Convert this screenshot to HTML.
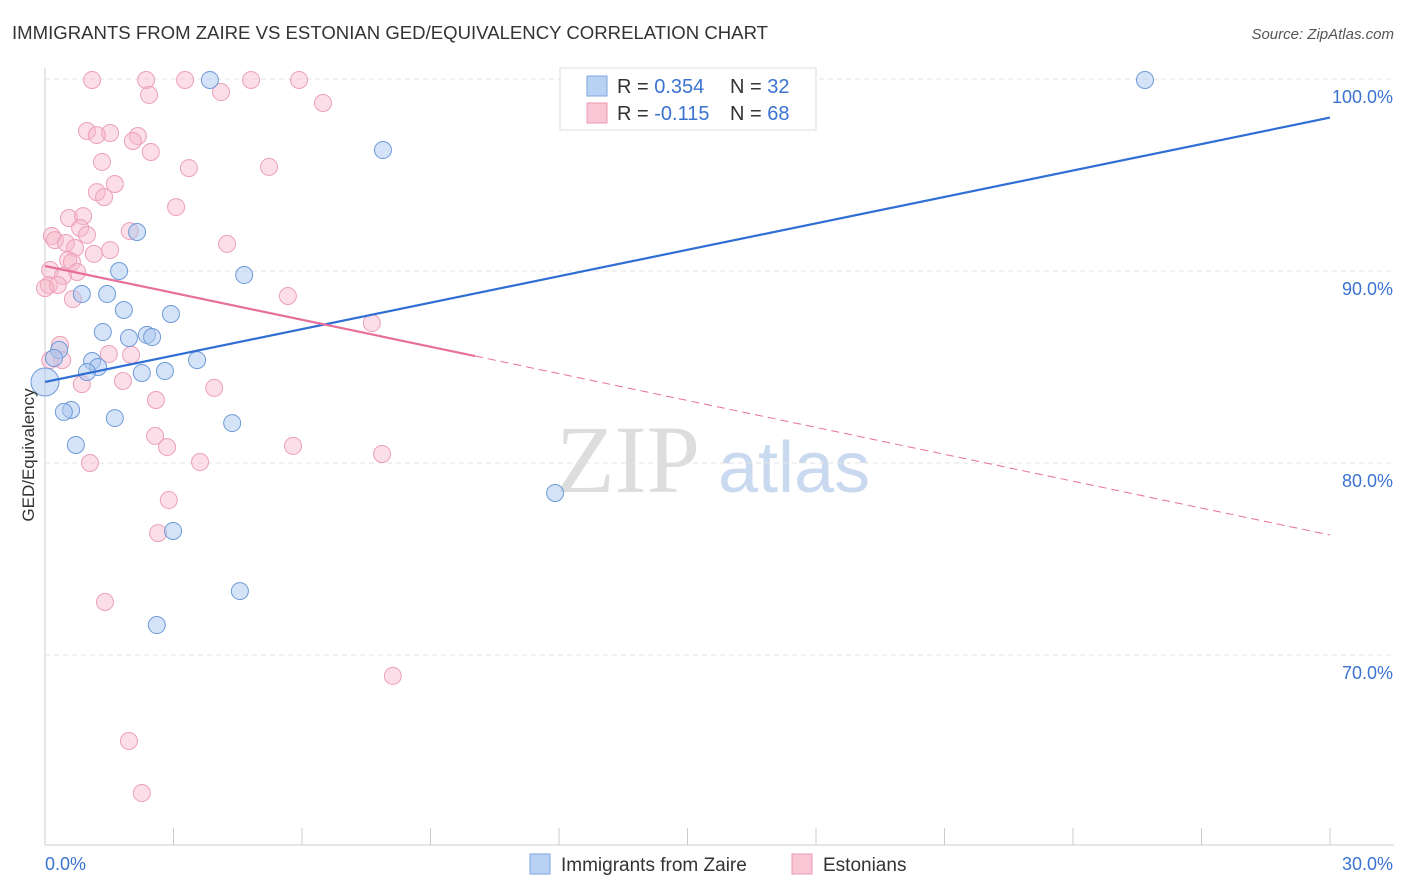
<!DOCTYPE html>
<html><head><meta charset="utf-8">
<style>
body{margin:0;background:#fff;font-family:"Liberation Sans",sans-serif;}
svg{display:block}
</style></head>
<body>
<svg id="chart" width="1406" height="892">
<text x="12" y="39" font-size="18" fill="#333" textLength="756" lengthAdjust="spacingAndGlyphs">IMMIGRANTS FROM ZAIRE VS ESTONIAN GED/EQUIVALENCY CORRELATION CHART</text>
<text x="1394" y="39" font-size="15" fill="#555" font-style="italic" text-anchor="end">Source: ZipAtlas.com</text>
<g>
<text x="556" y="492" font-size="96" font-family="Liberation Serif,serif" fill="#ddd">ZIP</text>
<text x="718" y="492" font-size="72" fill="#c9d9ef">atlas</text>
</g>
<g id="grid"></g>
<g id="axes"></g>
<g id="marks"></g>
<text transform="translate(34,455) rotate(-90)" font-size="17" fill="#333" text-anchor="middle">GED/Equivalency</text>
<g>
<rect x="560" y="68" width="256" height="62" fill="#fff" stroke="#ddd"/>
<rect x="587" y="76" width="20" height="20" fill="#b9d1f2" stroke="#7ea6e0"/>
<rect x="587" y="103" width="20" height="20" fill="#f8c6d4" stroke="#eb9ab3"/>
<text x="617" y="93" font-size="20" fill="#333">R = <tspan fill="#3b73d1">0.354</tspan></text>
<text x="730" y="93" font-size="20" fill="#333">N = <tspan fill="#3b73d1">32</tspan></text>
<text x="617" y="120" font-size="20" fill="#333">R = <tspan fill="#3b73d1">-0.115</tspan></text>
<text x="730" y="120" font-size="20" fill="#333">N = <tspan fill="#3b73d1">68</tspan></text>
</g>
<g>
<rect x="530" y="854" width="20" height="20" fill="#b9d1f2" stroke="#7ea6e0"/>
<text x="561" y="871" font-size="19" fill="#333">Immigrants from Zaire</text>
<rect x="792" y="854" width="20" height="20" fill="#f8c6d4" stroke="#eb9ab3"/>
<text x="823" y="871" font-size="19" fill="#333">Estonians</text>
</g>
</svg>
<script>
const yTicks=[70,80,90,100];
const yTickLabels=["70.0%","80.0%","90.0%","100.0%"];
const xEndLabels=["0.0%","30.0%"];
const blueX=[3.85,25.68,7.89,2.15,1.73,4.65,0.86,1.45,1.84,2.94,1.35,1.96,2.38,2.50,0.33,3.55,1.10,1.24,0.98,2.26,2.80,0.21,0,0.61,0.44,1.63,4.37,0.72,11.91,2.99,4.55,2.61];
const blueY=[99.95,99.95,96.30,92.03,90.0,89.79,88.80,88.80,87.97,87.76,86.82,86.51,86.67,86.56,85.89,85.36,85.31,85.0,84.74,84.69,84.79,85.47,84.22,82.76,82.66,82.34,82.08,80.94,78.44,76.46,73.33,71.56];
const pinkX=[1.10,2.36,3.27,4.81,5.93,4.11,2.43,6.49,0.98,1.52,1.21,2.17,2.05,2.47,1.33,3.36,5.23,1.63,1.21,1.38,3.06,0.56,0.89,0.16,0.82,1.98,0.98,0.23,0.49,0.70,1.52,4.25,1.14,0.54,0.63,0.12,0.75,0.42,0.09,0.30,5.67,0.65,7.63,0.35,0.40,1.49,2.01,0.12,1.82,0.86,3.95,2.59,2.57,2.85,5.79,1.05,3.62,7.87,2.89,2.64,1.40,8.12,1.96,2.26,0];
const pinkY=[99.95,99.95,99.95,99.95,99.95,99.32,99.17,98.75,97.29,97.19,97.08,97.03,96.77,96.20,95.68,95.36,95.42,94.53,94.11,93.85,93.33,92.76,92.86,91.82,92.24,92.08,91.88,91.61,91.46,91.20,91.09,91.41,90.89,90.57,90.47,90.05,89.95,89.74,89.27,89.27,88.70,88.54,87.29,86.15,85.36,85.68,85.63,85.36,84.27,84.11,83.91,83.28,81.41,80.83,80.89,80.0,80.05,80.47,78.07,76.35,72.76,68.91,65.52,62.81,89.11];
const blueTrend=[84.22,97.99];
const pinkTrend=[90.26,76.25];
const pinkSolidEnd=10.04;

const X0=45,X1=1330,Y100=79,PX10=192;
const sx=v=>X0+(v/30)*(X1-X0);
const sy=v=>Y100+(100-v)/10*PX10;
const NS="http://www.w3.org/2000/svg";
function mk(tag,attrs,parent){const e=document.createElementNS(NS,tag);for(const k in attrs)e.setAttribute(k,attrs[k]);parent.appendChild(e);return e;}
const grid=document.getElementById('grid'),axes=document.getElementById('axes'),marks=document.getElementById('marks');
yTicks.forEach((t,i)=>{
  const l=mk('line',{x1:X0,x2:1394,y1:sy(t),y2:sy(t),stroke:'#e3e3e3','stroke-dasharray':'5,4'},grid);
  
  
  const tx=mk('text',{x:1393,y:sy(t)+24,'font-size':18,fill:'#3b73d1','text-anchor':'end'},axes);
  tx.textContent=yTickLabels[i];
  
  
});
const ax=mk('line',{x1:X0,x2:X0,y1:68,y2:845,stroke:'#ccc'},axes);


const bx=mk('line',{x1:X0,x2:1394,y1:845,y2:845,stroke:'#ccc'},axes);


for(let i=0;i<=10;i++){
  const t=mk('line',{x1:sx(i*3),x2:sx(i*3),y1:828,y2:845,stroke:'#ccc'},axes);
  
  
}
const xl0=mk('text',{x:45,y:870,'font-size':18,fill:'#3b73d1'},axes);xl0.textContent=xEndLabels[0];


const xl1=mk('text',{x:1393,y:870,'font-size':18,fill:'#3b73d1','text-anchor':'end'},axes);xl1.textContent=xEndLabels[1];



pinkX.forEach((v,i)=>{
  const c=mk('circle',{cx:sx(v),cy:sy(pinkY[i]),r:8.5,fill:'rgba(246,182,202,0.45)',stroke:'#eca0b8','stroke-width':1},marks);
  
  
});
blueX.forEach((v,i)=>{
  const c=mk('circle',{cx:sx(v),cy:sy(blueY[i]),r:(v===0?14:8.5),fill:'rgba(170,200,240,0.5)',stroke:'#6f9ad8','stroke-width':1},marks);
  
  
});
const pAt=x=>pinkTrend[0]+(pinkTrend[1]-pinkTrend[0])*x/30;
const l1=mk('line',{x1:sx(0),y1:sy(blueTrend[0]),x2:sx(30),y2:sy(blueTrend[1]),stroke:'#2f6fd3','stroke-width':2.2},marks);


const l2=mk('line',{x1:sx(0),y1:sy(pAt(0)),x2:sx(pinkSolidEnd),y2:sy(pAt(pinkSolidEnd)),stroke:'#e7709a','stroke-width':2.2},marks);


const l3=mk('line',{x1:sx(pinkSolidEnd),y1:sy(pAt(pinkSolidEnd)),x2:sx(30),y2:sy(pAt(30)),stroke:'#e7709a','stroke-width':1,'stroke-dasharray':'8,5'},marks);


</script>
</body></html>
